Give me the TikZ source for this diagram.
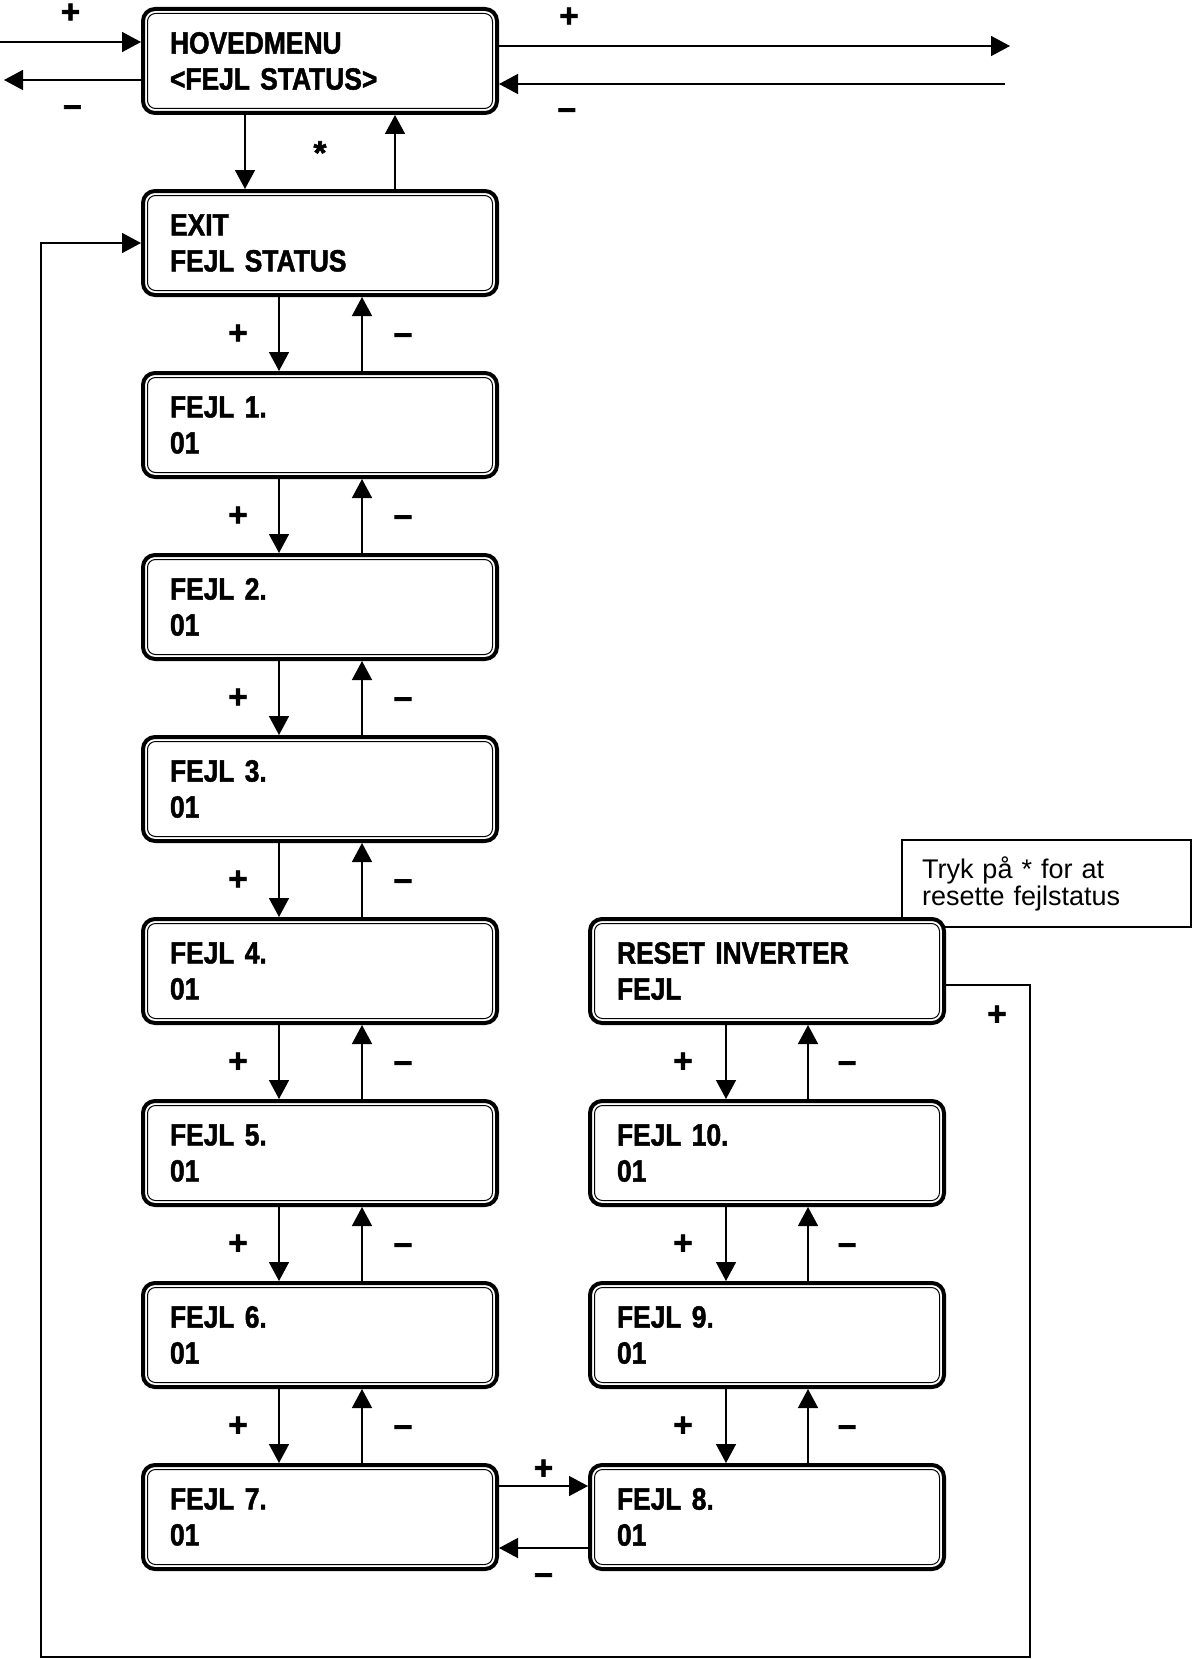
\documentclass[tikz,border=0pt]{standalone}
\usepackage{fontspec}
\setmainfont{Liberation Sans}
\newfontfamily\dispfont[FakeStretch=0.86,FakeBold=1.5]{Liberation Sans}
\newfontfamily\signfont[FakeBold=2]{Liberation Sans}
\usetikzlibrary{arrows.meta}

\begin{document}
\begin{tikzpicture}[x=1pt,y=-1pt]
\tikzstyle{disp}=[rectangle,draw,fill=white,line width=4pt,rounded corners=12pt,minimum width=354pt,minimum height=104pt,text width=300pt,inner xsep=27pt,inner ysep=0pt,align=left,font=\dispfont\bfseries\fontsize{30.7}{36}\selectfont,path picture={\draw[line width=1pt,rounded corners=8pt] ([shift={(4.5pt,-4.5pt)}]path picture bounding box.north west) rectangle ([shift={(-4.5pt,4.5pt)}]path picture bounding box.south east);}]
\tikzstyle{hint}=[rectangle,draw,line width=1.3pt,minimum width=289pt,minimum height=87pt,text width=249pt,inner xsep=20pt,inner ysep=0pt,align=left,font=\fontsize{27}{27}\selectfont]
\tikzstyle{sign}=[font=\signfont\bfseries\fontsize{33}{33}\selectfont,inner sep=0pt,text height=20pt,text depth=0pt]
\tikzstyle{link}=[-{Triangle[length=19pt,width=20pt]},line width=1.5pt]

\useasboundingbox (0,0) rectangle (1192,1659);

\node[hint] (hint) at (1046.5,883.5) {Tryk på * for at\\resette fejlstatus};

\node[disp] (hovedMenu) at (320,61) {HOVEDMENU\\<FEJL STATUS>};
\node[disp] (exitStatus) at (320,243) {EXIT\\FEJL STATUS};
\node[disp] (fejlOne) at (320,425) {FEJL 1.\\01};
\node[disp] (fejlTwo) at (320,607) {FEJL 2.\\01};
\node[disp] (fejlThree) at (320,789) {FEJL 3.\\01};
\node[disp] (fejlFour) at (320,971) {FEJL 4.\\01};
\node[disp] (fejlFive) at (320,1153) {FEJL 5.\\01};
\node[disp] (fejlSix) at (320,1335) {FEJL 6.\\01};
\node[disp] (fejlSeven) at (320,1517) {FEJL 7.\\01};

\node[disp] (resetInv) at (767,971) {RESET INVERTER\\FEJL};
\node[disp] (fejlTen) at (767,1153) {FEJL 10.\\01};
\node[disp] (fejlNine) at (767,1335) {FEJL 9.\\01};
\node[disp] (fejlEight) at (767,1517) {FEJL 8.\\01};

%side arrows of the main menu
\coordinate (inLeft) at (0,42);
\coordinate (outLeft) at (4,80);
\coordinate (outRight) at (1010,46);
\coordinate (inRight) at (1005,84);
\draw[link] (inLeft) -- (inLeft -| hovedMenu.west) node[sign,midway,yshift=29pt] {+};
\draw[link] (outLeft -| hovedMenu.west) -- (outLeft) node[sign,midway,yshift=-26pt] {–};
\draw[link] (outRight -| hovedMenu.east) -- (outRight) node[sign,pos=0.137,yshift=29pt] {+};
\draw[link] (inRight) -- (inRight -| hovedMenu.east) node[sign,pos=0.866,yshift=-25pt] {–};

\draw[link] ([xshift=-75pt]hovedMenu.south) -- ([xshift=-75pt]exitStatus.north);
\draw[link] ([xshift=75pt]exitStatus.north) -- ([xshift=75pt]hovedMenu.south);
\node[sign] (star) at (320,154) {*};

%left column
\draw[link] ([xshift=-41pt]exitStatus.south) -- ([xshift=-41pt]fejlOne.north) node[sign,midway,xshift=-41pt] {+};
\draw[link] ([xshift=42pt]fejlOne.north) -- ([xshift=42pt]exitStatus.south) node[sign,midway,xshift=41pt] {–};
\draw[link] ([xshift=-41pt]fejlOne.south) -- ([xshift=-41pt]fejlTwo.north) node[sign,midway,xshift=-41pt] {+};
\draw[link] ([xshift=42pt]fejlTwo.north) -- ([xshift=42pt]fejlOne.south) node[sign,midway,xshift=41pt] {–};
\draw[link] ([xshift=-41pt]fejlTwo.south) -- ([xshift=-41pt]fejlThree.north) node[sign,midway,xshift=-41pt] {+};
\draw[link] ([xshift=42pt]fejlThree.north) -- ([xshift=42pt]fejlTwo.south) node[sign,midway,xshift=41pt] {–};
\draw[link] ([xshift=-41pt]fejlThree.south) -- ([xshift=-41pt]fejlFour.north) node[sign,midway,xshift=-41pt] {+};
\draw[link] ([xshift=42pt]fejlFour.north) -- ([xshift=42pt]fejlThree.south) node[sign,midway,xshift=41pt] {–};
\draw[link] ([xshift=-41pt]fejlFour.south) -- ([xshift=-41pt]fejlFive.north) node[sign,midway,xshift=-41pt] {+};
\draw[link] ([xshift=42pt]fejlFive.north) -- ([xshift=42pt]fejlFour.south) node[sign,midway,xshift=41pt] {–};
\draw[link] ([xshift=-41pt]fejlFive.south) -- ([xshift=-41pt]fejlSix.north) node[sign,midway,xshift=-41pt] {+};
\draw[link] ([xshift=42pt]fejlSix.north) -- ([xshift=42pt]fejlFive.south) node[sign,midway,xshift=41pt] {–};
\draw[link] ([xshift=-41pt]fejlSix.south) -- ([xshift=-41pt]fejlSeven.north) node[sign,midway,xshift=-41pt] {+};
\draw[link] ([xshift=42pt]fejlSeven.north) -- ([xshift=42pt]fejlSix.south) node[sign,midway,xshift=41pt] {–};

%across the bottom
\draw[link] ([yshift=31pt]fejlSeven.east) -- ([yshift=31pt]fejlEight.west) node[sign,midway,yshift=17pt] {+};
\draw[link] ([yshift=-31pt]fejlEight.west) -- ([yshift=-31pt]fejlSeven.east) node[sign,midway,yshift=-26pt] {–};

%right column
\draw[link] ([xshift=-41pt]resetInv.south) -- ([xshift=-41pt]fejlTen.north) node[sign,midway,xshift=-43pt] {+};
\draw[link] ([xshift=41pt]fejlTen.north) -- ([xshift=41pt]resetInv.south) node[sign,midway,xshift=39pt] {–};
\draw[link] ([xshift=-41pt]fejlTen.south) -- ([xshift=-41pt]fejlNine.north) node[sign,midway,xshift=-43pt] {+};
\draw[link] ([xshift=41pt]fejlNine.north) -- ([xshift=41pt]fejlTen.south) node[sign,midway,xshift=39pt] {–};
\draw[link] ([xshift=-41pt]fejlNine.south) -- ([xshift=-41pt]fejlEight.north) node[sign,midway,xshift=-43pt] {+};
\draw[link] ([xshift=41pt]fejlEight.north) -- ([xshift=41pt]fejlNine.south) node[sign,midway,xshift=39pt] {–};

%reset back to exit
\coordinate (loopRight) at (1030,1657);
\coordinate (loopLeft) at (41,1657);
\draw[link] ([yshift=-14pt]resetInv.east) -| (loopRight) -- (loopLeft) |- (exitStatus.west);
\node[sign] (plusLoop) at (997,1015) {+};

\end{tikzpicture}
\end{document}
